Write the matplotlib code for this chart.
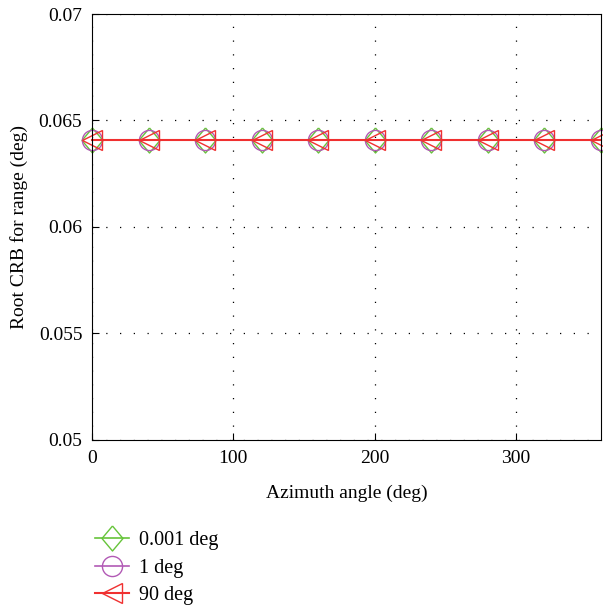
import numpy as np
import matplotlib.pyplot as plt

plt.rcParams['font.family'] = ['Liberation Serif', 'DejaVu Serif']

# azimuth angles (deg) and root CRB for range for each elevation spread
azimuth = [0, 40, 80, 120, 160, 200, 240, 280, 320, 360]
crb_0001 = [0.0641, 0.0641, 0.0641, 0.0641, 0.0641, 0.0641, 0.0641, 0.0641, 0.0641, 0.0641]
crb_1 = [0.0641, 0.0641, 0.0641, 0.0641, 0.0641, 0.0641, 0.0641, 0.0641, 0.0641, 0.0641]
crb_90 = [0.0641, 0.0641, 0.0641, 0.0641, 0.0641, 0.0641, 0.0641, 0.0641, 0.0641, 0.0641]
labels = ["0.001 deg", "1 deg", "90 deg"]

# slightly narrow diamond marker
diamond = [(0, 1), (0.84, 0), (0, -1), (-0.84, 0), (0, 1)]

fig = plt.figure(figsize=(6.03, 6.10), dpi=100)
ax = fig.add_axes([0.1526, 0.279, 0.844, 0.698])

ax.plot(azimuth, crb_0001, color='#66c43a', marker=diamond, markersize=18,
        markerfacecolor='none', linewidth=1.2, clip_on=False, label=labels[0])
ax.plot(azimuth, crb_1, color='#b25ab5', marker='o', markersize=14.5,
        markerfacecolor='none', linewidth=1.2, clip_on=False, label=labels[1])
ax.plot(azimuth, crb_90, color='#f03030', marker='<', markersize=15,
        markerfacecolor='none', linewidth=1.5, clip_on=False, label=labels[2])

ax.set_xlim(0, 360)
ax.set_ylim(0.05, 0.07)
ax.set_xticks([0, 100, 200, 300])
ax.set_yticks([0.05, 0.055, 0.06, 0.065, 0.07])
ax.set_yticklabels(["0.05", "0.055", "0.06", "0.065", "0.07"])
ax.tick_params(direction='in', labelsize=14, length=5, pad=7)
ax.grid(True, linestyle=(0, (1, 10)), color='black', linewidth=0.9)
ax.set_xlabel("Azimuth angle (deg)", fontsize=14, labelpad=13)
ax.set_ylabel("Root CRB for range (deg)", fontsize=14, labelpad=8)

ax.legend(loc='upper left', bbox_to_anchor=(0.005, -0.215), frameon=False,
          fontsize=14.5, handlelength=1.7, handletextpad=0.5,
          labelspacing=0.4, borderaxespad=0, borderpad=0)

fig.savefig("out.png", dpi=100)
